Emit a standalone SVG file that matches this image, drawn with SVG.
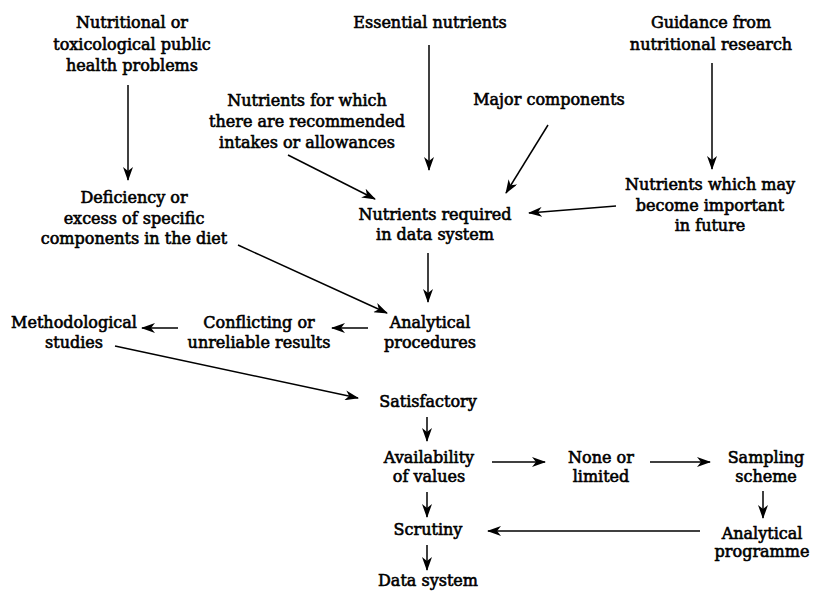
<svg xmlns="http://www.w3.org/2000/svg" width="813" height="591" viewBox="0 0 813 591">
<style>
text{font-family:"DejaVu Serif","Liberation Serif",serif;font-size:16px;fill:#000;text-anchor:middle;stroke:#000;stroke-width:0.6}
.c{stroke:#000;stroke-width:1.5;fill:none;marker-end:url(#ah)}
</style>
<defs>
<marker id="ah" markerWidth="14" markerHeight="10" refX="13" refY="5" orient="auto" markerUnits="userSpaceOnUse">
<path d="M0,0 L14,5 L0,10 L4,5 z" fill="#000"/>
</marker>
</defs>
<rect width="813" height="591" fill="#fff"/>
<g id="n1"><text x="132" y="28">Nutritional or</text><text x="132" y="50">toxicological public</text><text x="132" y="71">health problems</text></g>
<g id="n2"><text x="430" y="28">Essential nutrients</text></g>
<g id="n3"><text x="711" y="28">Guidance from</text><text x="711" y="50">nutritional research</text></g>
<g id="n4"><text x="307" y="106">Nutrients for which</text><text x="307" y="127">there are recommended</text><text x="307" y="148">intakes or allowances</text></g>
<g id="n5"><text x="549" y="105">Major components</text></g>
<g id="n6"><text x="134" y="203">Deficiency or</text><text x="134" y="224">excess of specific</text><text x="134" y="244">components in the diet</text></g>
<g id="n7"><text x="435" y="220">Nutrients required</text><text x="435" y="240">in data system</text></g>
<g id="n8"><text x="710" y="190">Nutrients which may</text><text x="710" y="211">become important</text><text x="710" y="231">in future</text></g>
<g id="n9"><text x="430" y="328">Analytical</text><text x="430" y="348">procedures</text></g>
<g id="n10"><text x="259" y="328">Conflicting or</text><text x="259" y="348">unreliable results</text></g>
<g id="n11"><text x="74" y="328">Methodological</text><text x="74" y="348">studies</text></g>
<g id="n12"><text x="428" y="407">Satisfactory</text></g>
<g id="n13"><text x="429" y="463">Availability</text><text x="429" y="482">of values</text></g>
<g id="n14"><text x="601" y="463">None or</text><text x="601" y="482">limited</text></g>
<g id="n15"><text x="766" y="463">Sampling</text><text x="766" y="482">scheme</text></g>
<g id="n16"><text x="428" y="535">Scrutiny</text></g>
<g id="n17"><text x="762" y="539">Analytical</text><text x="762" y="557">programme</text></g>
<g id="n18"><text x="428" y="586">Data system</text></g>
<g id="connectors">
<line class="c" x1="128" y1="85" x2="128" y2="180"/>
<line class="c" x1="429" y1="45" x2="429" y2="170"/>
<line class="c" x1="712" y1="63" x2="712" y2="169"/>
<line class="c" x1="288" y1="155" x2="375" y2="199"/>
<line class="c" x1="548" y1="125" x2="506" y2="193"/>
<line class="c" x1="616" y1="206" x2="529" y2="213"/>
<line class="c" x1="238" y1="245" x2="387" y2="313"/>
<line class="c" x1="428" y1="253" x2="428" y2="302"/>
<line class="c" x1="368" y1="328" x2="332" y2="328"/>
<line class="c" x1="178" y1="328" x2="142" y2="328"/>
<line class="c" x1="115" y1="346" x2="358" y2="398"/>
<line class="c" x1="427" y1="417" x2="427" y2="441"/>
<line class="c" x1="492" y1="462" x2="545" y2="462"/>
<line class="c" x1="650" y1="462" x2="710" y2="462"/>
<line class="c" x1="763" y1="491" x2="763" y2="518"/>
<line class="c" x1="700" y1="531" x2="488" y2="531"/>
<line class="c" x1="427" y1="492" x2="427" y2="517"/>
<line class="c" x1="427" y1="545" x2="427" y2="570"/>
</g>
</svg>
